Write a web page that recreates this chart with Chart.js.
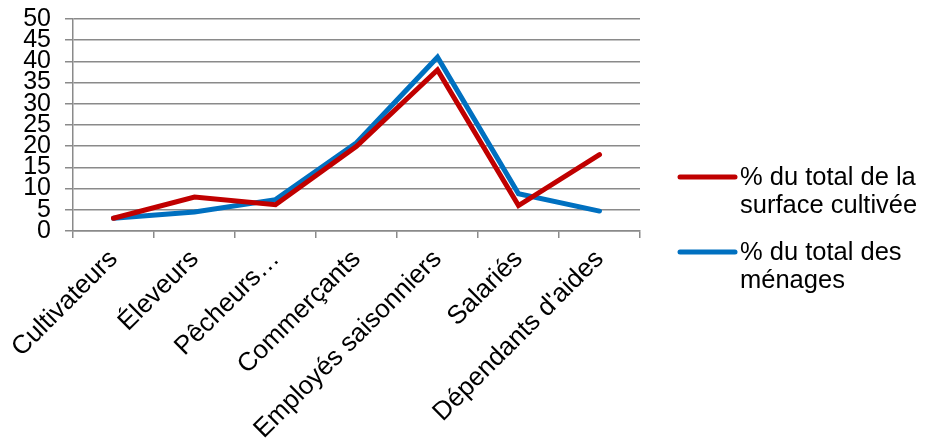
<!DOCTYPE html>
<html>
<head>
<meta charset="utf-8">
<script src="https://cdn.jsdelivr.net/npm/chart.js@4"></script>
<style>
  html, body { margin: 0; padding: 0; background: #fff; }
  #wrap { width: 927px; height: 444px; }
</style>
</head>
<body>
<div id="wrap"><canvas id="chart" width="927" height="444"></canvas></div>
<script>
const categories = ['Cultivateurs', 'Éleveurs', 'Pêcheurs…', 'Commerçants', 'Employés saisonniers', 'Salariés', "Dépendants d'aides"];
const surfaceValues = [3, 8, 6.2, 20, 38, 6, 18];   // % du total de la surface cultivée
const menagesValues = [3, 4.5, 7.4, 20.8, 41, 8.8, 4.7]; // % du total des ménages
const seriesLabels = [['% du total de la', 'surface cultivée'], ['% du total des', 'ménages']];
const seriesColors = ['#C00000', '#0070C0'];
const yTicks = [0, 5, 10, 15, 20, 25, 30, 35, 40, 45, 50];

const FONT = 'Arial, "Liberation Sans", sans-serif';
const gridColor = '#8a8a8a';

// legend drawn by hand so each entry can wrap on two lines
const sideLegend = {
    id: 'sideLegend',
    afterDraw(chart) {
        const ctx = chart.ctx;
        const x0 = 680, x1 = 735;
        const rows = [177, 252];
        ctx.save();
        ctx.font = '25.5px ' + FONT;
        ctx.textBaseline = 'middle';
        ctx.textAlign = 'left';
        chart.data.datasets.forEach((ds, i) => {
            const y = rows[i];
            ctx.strokeStyle = ds.borderColor;
            ctx.lineWidth = 5;
            ctx.lineCap = 'round';
            ctx.beginPath();
            ctx.moveTo(x0, y);
            ctx.lineTo(x1, y);
            ctx.stroke();
            ctx.fillStyle = '#000';
            seriesLabels[i].forEach((line, j) => {
                ctx.fillText(line, 740, y + 1 + j * 28);
            });
        });
        ctx.restore();
    }
};

new Chart(document.getElementById('chart').getContext('2d'), {
    type: 'line',
    data: {
        labels: categories,
        datasets: [
            { label: seriesLabels[0].join(' '), data: surfaceValues, borderColor: seriesColors[0], backgroundColor: seriesColors[0] },
            { label: seriesLabels[1].join(' '), data: menagesValues, borderColor: seriesColors[1], backgroundColor: seriesColors[1] }
        ]
    },
    options: {
        responsive: false,
        animation: false,
        layout: { padding: { top: 19, right: 287, left: 0, bottom: 0 } },
        elements: {
            line: { borderWidth: 5, tension: 0, borderCapStyle: 'round', borderJoinStyle: 'miter' },
            point: { radius: 0, hoverRadius: 0 }
        },
        plugins: {
            legend: { display: false },
            tooltip: { enabled: false }
        },
        scales: {
            x: {
                offset: true,
                grid: { offset: true, drawOnChartArea: false, color: gridColor, lineWidth: 1.5, tickLength: 7 },
                border: { color: gridColor, width: 1.5 },
                ticks: {
                    autoSkip: false, minRotation: 45, maxRotation: 45, padding: 6,
                    color: '#000', font: { family: FONT, size: 26 }
                },
                afterFit(scale) {
                    scale.height = 213;
                    scale.paddingLeft = 0;
                    scale.paddingRight = 0;
                }
            },
            y: {
                min: 0, max: 50,
                afterBuildTicks(scale) { scale.ticks = yTicks.map(v => ({ value: v })); },
                grid: { color: gridColor, lineWidth: 1.5, tickLength: 8 },
                border: { color: gridColor, width: 1.5 },
                ticks: {
                    autoSkip: false, padding: 14, color: '#000',
                    font: { family: FONT, size: 25, lineHeight: 1 }
                },
                afterFit(scale) {
                    scale.width = 73;
                    scale.paddingTop = 0;
                    scale.paddingBottom = 0;
                }
            }
        }
    },
    plugins: [sideLegend]
});
</script>
</body>
</html>
